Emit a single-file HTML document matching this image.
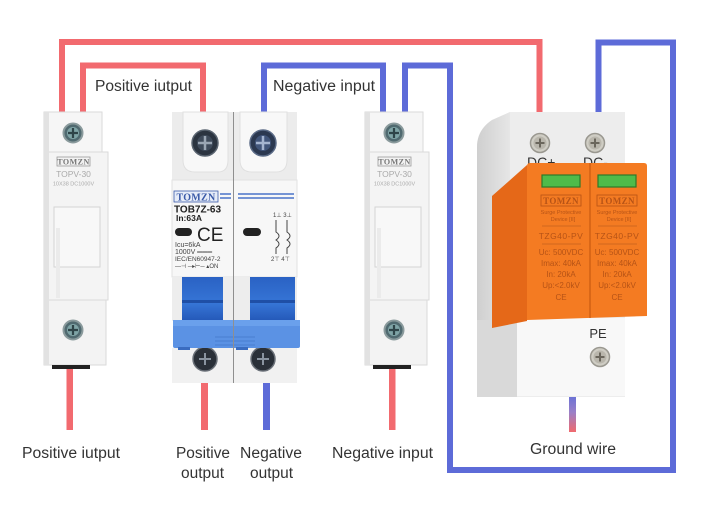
<!DOCTYPE html>
<html><head><meta charset="utf-8"><style>
html,body{margin:0;padding:0;background:#fff;}
svg{display:block;}
text{font-family:"Liberation Sans",sans-serif;}
.lbl{font-size:15.5px;fill:#333;}
.ser{font-family:"Liberation Serif",serif;}
</style></head><body>
<svg width="707" height="519" viewBox="0 0 707 519" xmlns="http://www.w3.org/2000/svg">
<defs>
<linearGradient id="gw" x1="0" y1="0" x2="0" y2="1">
<stop offset="0" stop-color="#6a72d6"/><stop offset="0.45" stop-color="#9a80c8"/><stop offset="1" stop-color="#f06a6e"/>
</linearGradient>
<linearGradient id="hand" x1="0" y1="0" x2="0" y2="1">
<stop offset="0" stop-color="#2a62c4"/><stop offset="0.6" stop-color="#3675d6"/><stop offset="1" stop-color="#2458b8"/>
</linearGradient>
<linearGradient id="side" x1="0" y1="0" x2="1" y2="0">
<stop offset="0" stop-color="#cfcfcf"/><stop offset="1" stop-color="#e6e6e6"/>
</linearGradient>
<g id="screwG">
<circle r="9.5" fill="#506a70" stroke="#8a9a9c" stroke-width="2"/>
<circle r="6" fill="#7fa4a6"/>
<path d="M-5 0H5M0 -5V5" stroke="#2e4448" stroke-width="2.2"/>
</g>
<g id="screwS">
<circle r="9.5" fill="#cfcdc4" stroke="#9a9890" stroke-width="1.5"/>
<circle r="6.5" fill="#b9b6ac"/>
<path d="M-4.5 0H4.5M0 -4.5V4.5" stroke="#6a665c" stroke-width="2"/>
</g>
<g id="fuse">
<rect x="44" y="112" width="58" height="41" fill="#f6f6f6" stroke="#dadada"/>
<rect x="44" y="152" width="64" height="148" fill="#f4f4f4" stroke="#dadada"/>
<rect x="44" y="300" width="62" height="65" fill="#f3f3f3" stroke="#dadada"/>
<rect x="44" y="112" width="5" height="253" fill="#e2e2e2"/>
<rect x="54" y="207" width="46" height="60" fill="#f8f8f8" stroke="#d4d4d4"/>
<rect x="56" y="228" width="4" height="70" fill="#ebebeb"/>
<use href="#screwG" x="73" y="133"/>
<use href="#screwG" x="73" y="330"/>
<rect x="57" y="157" width="33" height="9" fill="#f2f2f2" stroke="#9a9a9a" stroke-width="0.8"/>
<text x="73.5" y="164.5" class="ser" font-size="8" font-weight="bold" fill="#777" text-anchor="middle" letter-spacing="0.5">TOMZN</text>
<text x="73.5" y="177" font-size="8.5" fill="#aaa" text-anchor="middle">TOPV-30</text>
<text x="73.5" y="185.5" font-size="5.5" fill="#aaa" text-anchor="middle">10X38 DC1000V</text>
<rect x="52" y="365" width="38" height="4" fill="#222"/>
</g>
</defs>

<!-- wires -->
<g fill="none" stroke-width="6" stroke-linejoin="miter">
<path d="M62 114V42H539.5V114" stroke="#f26a6f"/>
<path d="M83 114V65.5H203V114" stroke="#f26a6f"/>
<path d="M264 114V65.5H383V114" stroke="#5d6bd8"/>
<path d="M405 114V65.5H450V470H673V42.5H598.5V114" stroke="#5d6bd8"/>
</g>
<rect x="66.5" y="368" width="6.5" height="62" fill="#f26a6f"/>
<rect x="389" y="368" width="6.5" height="62" fill="#f26a6f"/>
<rect x="201" y="382" width="7" height="48" fill="#f26a6f"/>
<rect x="263" y="382" width="7" height="48" fill="#5d6bd8"/>
<rect x="569" y="396" width="7" height="36" fill="url(#gw)"/>

<!-- fuses -->
<use href="#fuse"/>
<use href="#fuse" x="321"/>

<!-- MCB -->
<g>
<rect x="172" y="112" width="125" height="68" fill="#ececec"/>
<path d="M183 112V160Q183 172 195 172H218Q228 172 228 160V112Z" fill="#f8f8f8" stroke="#e0e0e0"/>
<path d="M240 112V160Q240 172 252 172H276Q287 172 287 160V112Z" fill="#f8f8f8" stroke="#e0e0e0"/>
<circle cx="205" cy="143" r="13" fill="#2b3440" stroke="#5a6470" stroke-width="1.5"/>
<circle cx="205" cy="143" r="8" fill="#3e4a5a"/>
<path d="M198 143H212M205 136V150" stroke="#9aa6b4" stroke-width="2.5"/>
<circle cx="263" cy="143" r="13" fill="#2b3850" stroke="#5a6a86" stroke-width="1.5"/>
<circle cx="263" cy="143" r="8" fill="#41557a"/>
<path d="M256 143H270M263 136V150" stroke="#a4b4d0" stroke-width="2.5"/>
<rect x="172" y="180" width="125" height="97" fill="#f7f7f7" stroke="#e2e2e2"/>
<rect x="174" y="191" width="44" height="11" fill="#e6ecf8" stroke="#3a5aa8" stroke-width="0.8"/>
<text x="196" y="200.5" class="ser" font-size="10" font-weight="bold" fill="#3a5aa8" text-anchor="middle" letter-spacing="0.3">TOMZN</text>
<path d="M220 194H231M220 198H231M238 194H294M238 198H294" stroke="#4a74c8" stroke-width="1.5"/>
<text x="174" y="212.5" font-size="10" font-weight="bold" fill="#222">TOB7Z-63</text>
<text x="176" y="221" font-size="8.5" font-weight="bold" fill="#222">In:63A</text>
<rect x="175" y="228" width="17" height="8" rx="4" fill="#222"/>
<rect x="243" y="228" width="18" height="8" rx="4" fill="#222"/>
<text x="197" y="241" font-size="19" fill="#222">CE</text>
<text x="175" y="247" font-size="7" fill="#444">Icu=6kA</text>
<text x="175" y="254" font-size="7" fill="#444">1000V ═══</text>
<text x="175" y="261" font-size="6.5" fill="#444">IEC/EN60947-2</text>
<text x="175" y="268" font-size="6" fill="#444">—⊣ ─▸⊢─  ▴ON</text>
<text x="273" y="217" font-size="6" fill="#444">1⊥ 3⊥</text>
<path d="M276 220V232Q282 236 276 240Q282 244 276 248V254M287 220V232Q293 236 287 240Q293 244 287 248V254" stroke="#444" stroke-width="1" fill="none"/>
<text x="271" y="261" font-size="6" fill="#444">2⊤ 4⊤</text>
<rect x="172" y="277" width="125" height="44" fill="#ededed"/>
<rect x="182" y="277" width="41" height="44" fill="url(#hand)"/>
<rect x="250" y="277" width="45" height="44" fill="url(#hand)"/>
<rect x="182" y="300" width="41" height="3" fill="#1f4fa6"/>
<rect x="250" y="300" width="45" height="3" fill="#1f4fa6"/>
<rect x="172" y="348" width="125" height="35" fill="#f1f1f1"/>
<circle cx="205" cy="359" r="12" fill="#2a3038" stroke="#6a7078" stroke-width="1.5"/>
<path d="M199 359H211M205 353V365" stroke="#8a94a0" stroke-width="2"/>
<circle cx="263" cy="359" r="12" fill="#2a3038" stroke="#6a7078" stroke-width="1.5"/>
<path d="M257 359H269M263 353V365" stroke="#8a94a0" stroke-width="2"/>
<rect x="173" y="320" width="127" height="28" rx="2" fill="#5b92e4"/>
<rect x="173" y="320" width="127" height="6" fill="#6aa0ec"/>
<path d="M215 337H255M215 341H255M215 345H255" stroke="#4a7ed0" stroke-width="1"/>
<rect x="178" y="347" width="12" height="3" fill="#3a6cc0"/>
<rect x="236" y="347" width="12" height="3" fill="#3a6cc0"/>
<line x1="233.5" y1="112" x2="233.5" y2="383" stroke="#8f8f8f" stroke-width="1"/>
</g>

<!-- SPD -->
<g>
<path d="M510 112H625V397H477V147Q477 130 492 120Z" fill="#ededed"/>
<path d="M477 147Q477 130 492 120L510 112V397H477Z" fill="url(#side)"/>
<use href="#screwS" x="540" y="143"/>
<use href="#screwS" x="595" y="143"/>
<text x="527" y="167" font-size="14" fill="#333">DC+</text>
<text x="583" y="167" font-size="14" fill="#333">DC-</text>
<rect x="517" y="318" width="108" height="78" fill="#f8f8f8"/>
<path d="M477 320H517V397H477Z" fill="#d9d9d9"/>
<path d="M492 196L527 165V321L492 328Z" fill="#e56818"/>
<path d="M527 166Q527 163 530 163H644Q647 163 647 166V316L527 320Z" fill="#f47b22"/>
<line x1="590" y1="163" x2="590" y2="318" stroke="#c85a10" stroke-width="1.2"/>
<rect x="542" y="175" width="38" height="12" fill="#4fbb4a" stroke="#2d7a2a" stroke-width="1.2"/>
<rect x="598" y="175" width="38" height="12" fill="#4fbb4a" stroke="#2d7a2a" stroke-width="1.2"/>
<g fill="#b65316" text-anchor="middle">
<rect x="541" y="195" width="40" height="11" fill="none" stroke="#b65316" stroke-width="0.8"/>
<rect x="597" y="195" width="40" height="11" fill="none" stroke="#b65316" stroke-width="0.8"/>
<text x="561" y="204" class="ser" font-size="9" font-weight="bold" letter-spacing="0.4">TOMZN</text>
<text x="617" y="204" class="ser" font-size="9" font-weight="bold" letter-spacing="0.4">TOMZN</text>
<text x="561" y="214" font-size="5.5">Surge Protective</text>
<text x="617" y="214" font-size="5.5">Surge Protective</text>
<text x="563" y="221" font-size="5.5">Device [II]</text>
<text x="619" y="221" font-size="5.5">Device [II]</text>
<path d="M542 226H581M598 226H637M542 244H581M598 244H637" stroke="#c4621e" stroke-width="0.8"/>
<text x="561" y="239" font-size="8.5" letter-spacing="0.5">TZG40-PV</text>
<text x="617" y="239" font-size="8.5" letter-spacing="0.5">TZG40-PV</text>
<text x="561" y="255" font-size="8">Uc: 500VDC</text>
<text x="617" y="255" font-size="8">Uc: 500VDC</text>
<text x="561" y="266" font-size="8">Imax: 40kA</text>
<text x="617" y="266" font-size="8">Imax: 40kA</text>
<text x="561" y="277" font-size="8">In:     20kA</text>
<text x="617" y="277" font-size="8">In:     20kA</text>
<text x="561" y="288" font-size="8">Up:&lt;2.0kV</text>
<text x="617" y="288" font-size="8">Up:&lt;2.0kV</text>
<text x="561" y="300" font-size="8">CE</text>
<text x="617" y="300" font-size="8">CE</text>
</g>
<text x="598" y="338" font-size="13" fill="#333" text-anchor="middle">PE</text>
<use href="#screwS" x="600" y="357"/>
</g>

<!-- labels -->
<text class="lbl" x="95" y="91" textLength="97" lengthAdjust="spacingAndGlyphs">Positive iutput</text>
<text class="lbl" x="273" y="91" textLength="102" lengthAdjust="spacingAndGlyphs">Negative input</text>
<text class="lbl" x="22" y="458" textLength="98" lengthAdjust="spacingAndGlyphs">Positive iutput</text>
<text class="lbl" x="176" y="458" textLength="54" lengthAdjust="spacingAndGlyphs">Positive</text>
<text class="lbl" x="181" y="478" textLength="43" lengthAdjust="spacingAndGlyphs">output</text>
<text class="lbl" x="240" y="458" textLength="62" lengthAdjust="spacingAndGlyphs">Negative</text>
<text class="lbl" x="250" y="478" textLength="43" lengthAdjust="spacingAndGlyphs">output</text>
<text class="lbl" x="332" y="458" textLength="101" lengthAdjust="spacingAndGlyphs">Negative input</text>
<text class="lbl" x="530" y="454" textLength="86" lengthAdjust="spacingAndGlyphs">Ground wire</text>
</svg>
</body></html>
